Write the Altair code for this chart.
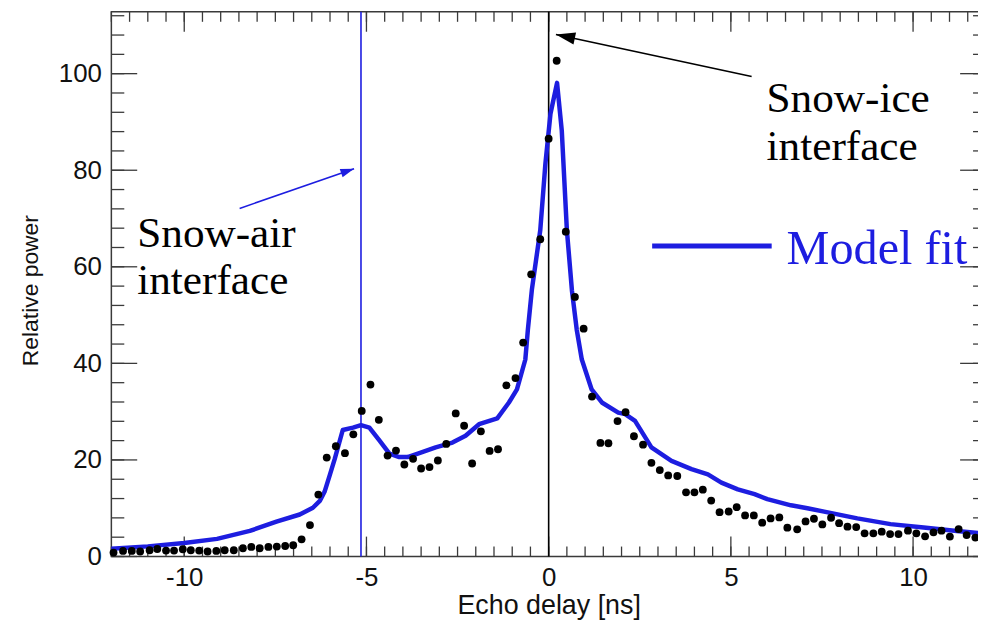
import altair as alt
import pandas as pd

# ---- measured echo (black dots) ----
delay_ns = [
    -11.94, -11.68, -11.44, -11.21, -10.95, -10.74, -10.50, -10.28, -10.04, -9.82,
    -9.59, -9.36, -9.12, -8.89, -8.64, -8.39, -8.16, -7.93, -7.69, -7.46,
    -7.23, -7.01, -6.78, -6.55, -6.32, -6.09, -5.84, -5.59, -5.36, -5.13,
    -4.89, -4.66, -4.42, -4.19, -3.96, -3.72, -3.50, -3.27, -3.04, -2.81,
    -2.55, -2.32, -2.10, -1.86, -1.62, -1.39, -1.16, -0.91, -0.70, -0.48,
    -0.23, 0.00, 0.22, 0.47, 0.72, 0.96, 1.19, 1.42, 1.64, 1.89,
    2.11, 2.34, 2.59, 2.82, 3.05, 3.28, 3.53, 3.77, 4.00, 4.23,
    4.46, 4.69, 4.94, 5.16, 5.39, 5.63, 5.86, 6.09, 6.33, 6.55,
    6.82, 7.05, 7.28, 7.51, 7.75, 7.97, 8.20, 8.44, 8.67, 8.91,
    9.14, 9.37, 9.60, 9.86, 10.09, 10.33, 10.56, 10.78, 11.01, 11.25,
    11.47, 11.71, 11.95,
]
power = [
    0.82, 1.15, 1.15, 1.03, 1.30, 1.56, 1.23, 1.23, 1.50, 1.30,
    1.23, 1.03, 1.15, 1.30, 1.30, 1.71, 1.98, 1.71, 1.98, 2.06,
    2.18, 2.33, 3.56, 6.50, 12.82, 20.49, 22.84, 21.40, 25.31, 30.16,
    35.60, 28.31, 20.91, 21.93, 19.05, 20.23, 18.23, 18.52, 19.88, 23.31,
    29.63, 27.08, 19.26, 25.93, 21.87, 22.22, 35.45, 36.95, 44.30, 58.44,
    65.70, 86.54, 102.67, 67.28, 53.77, 47.18, 33.13, 23.52, 23.46, 28.04,
    29.90, 24.90, 23.17, 19.40, 17.90, 16.79, 16.67, 13.29, 13.29, 13.85,
    11.58, 9.18, 9.32, 10.21, 8.50, 8.50, 7.00, 7.88, 8.09, 5.97,
    5.62, 7.26, 7.82, 6.65, 8.02, 6.91, 6.17, 6.09, 4.79, 4.79,
    5.14, 4.65, 4.65, 5.35, 4.79, 4.18, 5.00, 5.35, 4.12, 5.68,
    4.44, 3.91, 3.00,
]

# ---- model fit (blue line) ----
model_delay = [
    -12.0, -11.0, -10.0, -9.1, -8.2, -7.47, -6.83, -6.47, -6.28, -6.15,
    -6.0, -5.87, -5.65, -5.37, -5.15, -4.92, -4.64, -4.37, -4.1, -3.87,
    -3.55, -3.1, -2.64, -2.28, -1.91, -1.41, -1.09, -0.87, -0.64, -0.57,
    -0.46, -0.23, -0.09, 0.05, 0.23, 0.36, 0.5, 0.64, 0.77, 0.91,
    1.18, 1.46, 1.91, 2.1, 2.37, 2.82, 3.37, 3.92, 4.37, 4.74,
    5.19, 5.65, 6.0, 6.65, 7.1, 7.56, 8.47, 9.38, 10.29, 11.2, 12.0,
]
model_power = [
    1.6, 2.1, 2.8, 3.65, 5.3, 7.2, 8.7, 10.1, 11.5, 13.4,
    17.0, 20.2, 26.2, 26.7, 27.2, 26.7, 24.0, 21.3, 20.6, 20.6,
    21.4, 22.6, 23.6, 25.0, 27.4, 28.6, 31.9, 34.6, 40.8, 47.0,
    55.3, 67.6, 81.3, 91.7, 98.1, 88.2, 67.6, 55.0, 47.0, 40.8,
    34.6, 31.9, 29.8, 29.5, 28.1, 22.6, 19.8, 18.1, 17.0, 15.3,
    13.9, 12.9, 11.9, 10.6, 10.0, 9.3, 7.9, 6.7, 6.0, 5.3, 4.7,
]

# ---- interface markers & annotations ----
interface_delay = [-5.15, 0.0]
interface_color = ["#1d1de0", "#000000"]

label_text = ["Snow-ice", "interface", "Snow-air", "interface"]
label_x = [5.98, 5.98, -11.29, -11.29]
label_y = [92.0, 82.2, 64.0, 54.4]

arrow_x = [5.57, -8.48]
arrow_y = [99.4, 72.1]
arrow_x2 = [0.2, -5.34]
arrow_y2 = [108.1, 80.3]
arrow_color = ["#000000", "#1d1de0"]
arrow_angle = [192, 341]
arrow_size = [1500, 750]

legend_x = [2.84]
legend_x2 = [6.12]
legend_y = [64.3]
legend_label = ["Model fit"]
legend_text_x = [6.53]
legend_text_y = [60.6]

x_major = [-10, -5, 0, 5, 10]
y_major = [0, 20, 40, 60, 80, 100]
x_minor = [i * 0.5 for i in range(-24, 25)]
y_minor = [i * 4 for i in range(0, 29)]

W, H = 880, 548
BLUE = "#1d1de0"
AX = "#3a3a3a"

xs = alt.Scale(domain=[-12, 12], nice=False, zero=False)
ys = alt.Scale(domain=[0, 112.8], nice=False, zero=False)

x_axis = alt.Axis(values=x_major, ticks=False, domain=False, grid=False,
                  labelFontSize=26, labelFont="Liberation Sans", labelColor="#111",
                  labelPadding=8, labelExpr="'' + datum.value",
                  title="Echo delay [ns]", titleFontSize=27, titleFont="Liberation Sans",
                  titleFontWeight="normal", titleColor="#111",
                  titleY=49, titleBaseline="middle")
y_axis = alt.Axis(values=y_major, ticks=False, domain=False, grid=False,
                  labelFontSize=26, labelFont="Liberation Sans", labelColor="#111",
                  labelPadding=10, labelExpr="'' + datum.value",
                  title="Relative power", titleFontSize=23, titleFont="Liberation Sans",
                  titleFontWeight="normal", titleColor="#111",
                  titleX=-81, titleY=280, titleAlign="center", titleBaseline="middle")


def X(f):
    return alt.X(f, type="quantitative", scale=xs, axis=x_axis, title="Echo delay [ns]")


def Y(f):
    return alt.Y(f, type="quantitative", scale=ys, axis=y_axis, title="Relative power")


dots_df = pd.DataFrame({"delay": delay_ns, "power": power})
model_df = pd.DataFrame({"delay": model_delay, "power": model_power})
iface_df = pd.DataFrame({"delay": interface_delay, "c": interface_color})
lab_df = pd.DataFrame({"x": label_x, "y": label_y, "t": label_text})
arr_df = pd.DataFrame({"x": arrow_x, "y": arrow_y, "x2": arrow_x2, "y2": arrow_y2,
                       "c": arrow_color, "a": arrow_angle, "s": arrow_size})
leg_df = pd.DataFrame({"x": legend_x, "x2": legend_x2, "y": legend_y})
legt_df = pd.DataFrame({"x": legend_text_x, "y": legend_text_y, "t": legend_label})

# ---- inward ticks ----
xmaj = pd.DataFrame({"delay": x_major})
xmin = pd.DataFrame({"delay": x_minor})
ymaj = pd.DataFrame({"power": y_major})
ymin = pd.DataFrame({"power": y_minor})

tick_layers = []
for df, ln in [(xmaj, 20), (xmin, 10)]:
    tick_layers.append(alt.Chart(df).mark_rule(color=AX, strokeWidth=1.3).encode(
        x=X("delay"), y=alt.value(H), y2=alt.value(H - ln)))
    tick_layers.append(alt.Chart(df).mark_rule(color=AX, strokeWidth=1.3).encode(
        x=X("delay"), y=alt.value(0), y2=alt.value(ln)))
for df, ln in [(ymaj, 26), (ymin, 13)]:
    tick_layers.append(alt.Chart(df).mark_rule(color=AX, strokeWidth=1.3).encode(
        y=Y("power"), x=alt.value(0), x2=alt.value(ln)))
    tick_layers.append(alt.Chart(df).mark_rule(color=AX, strokeWidth=1.3).encode(
        y=Y("power"), x=alt.value(W), x2=alt.value(W - ln)))

iface = alt.Chart(iface_df).mark_rule(strokeWidth=1.6).encode(
    x=X("delay"), color=alt.Color("c:N", scale=None))

model = alt.Chart(model_df).mark_line(color=BLUE, strokeWidth=4.5, strokeJoin="round").encode(
    x=X("delay"), y=Y("power"))

dots = alt.Chart(dots_df).mark_circle(color="#000000", size=62, opacity=1).encode(
    x=X("delay"), y=Y("power"))

labels = alt.Chart(lab_df).mark_text(font="Liberation Serif", fontSize=43.5, align="left",
                                      baseline="alphabetic", color="#000000").encode(
    x=X("x"), y=Y("y"), text="t:N")

shafts = alt.Chart(arr_df).mark_rule(strokeWidth=1.6).encode(
    x=X("x"), y=Y("y"), x2="x2", y2="y2", color=alt.Color("c:N", scale=None))

heads = alt.Chart(arr_df).mark_point(filled=True, opacity=1,
                                     shape="M0,0L-1,-0.32L-1,0.32Z").encode(
    x=X("x2"), y=Y("y2"), color=alt.Color("c:N", scale=None),
    angle=alt.Angle("a:Q", scale=None), size=alt.Size("s:Q", scale=None))

leg_line = alt.Chart(leg_df).mark_rule(color=BLUE, strokeWidth=5).encode(
    x=X("x"), x2="x2", y=Y("y"))

leg_text = alt.Chart(legt_df).mark_text(font="Liberation Serif", fontSize=48.5, align="left",
                                         baseline="alphabetic", color=BLUE).encode(
    x=X("x"), y=Y("y"), text="t:N")

chart = alt.layer(*tick_layers, iface, model, dots, shafts, heads, labels,
                  leg_line, leg_text).properties(
    width=W, height=H,
    autosize=alt.AutoSizeParams(type="none"),
    padding={"left": 104, "top": 2, "right": -8, "bottom": 62},
    background="white",
).configure_view(stroke=AX, strokeWidth=1.5)

chart.save("out.html", embed_options={"renderer": "svg", "actions": False})
